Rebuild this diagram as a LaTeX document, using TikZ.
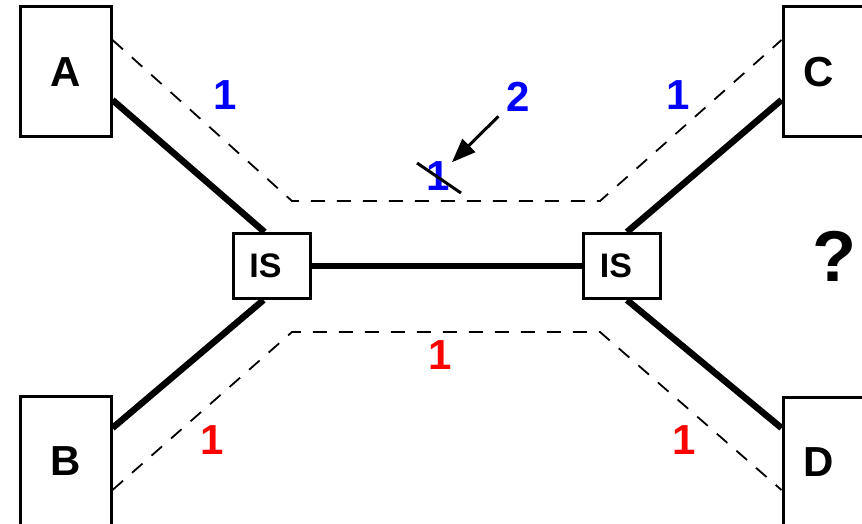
\documentclass[tikz,border=0pt]{standalone}
\usepackage{fontspec}
\setmainfont{Liberation Sans}
\usetikzlibrary{positioning,arrows.meta,calc}
\definecolor{hopblue}{RGB}{0,0,255}
\definecolor{hopred}{RGB}{255,0,0}

\begin{document}
\begin{tikzpicture}[
  x=1pt, y=-1pt,
  font=\bfseries\fontsize{42}{42}\selectfont,
  host/.style={draw, line width=3pt, minimum width=91pt, minimum height=130pt,
               inner sep=0pt},
  router/.style={draw, line width=3pt, minimum width=77pt, minimum height=65pt,
                 inner sep=0pt},
  rlabel/.style={font=\bfseries\fontsize{34}{34}\selectfont, xshift=-6pt},
  link/.style={line width=6.5pt},
  route/.style={line width=1.8pt, dash pattern=on 14pt off 12pt},
  hopb/.style={text=hopblue, inner sep=2pt},
  hopr/.style={text=hopred, inner sep=2pt},
  arr/.style={-{Triangle[length=24pt,width=18pt]}, line width=3pt},
  strike/.style={line width=3pt}
]
\useasboundingbox (0,0) rectangle (862,524);
\clip (0,0) rectangle (862,524);
% --- end systems -------------------------------------------------------
\node[host] (A) at (65.5,72)  {A};
\node[host] (B) at (65.5,461) {B};
\node[host, label={[xshift=-10pt]center:C}] (C) at (828.5,72)  {};
\node[host, label={[xshift=-10pt]center:D}] (D) at (828.5,462) {};
% --- intermediate systems ----------------------------------------------
\node[router, label={[rlabel]center:IS}] (ISL) at (271.5,266) {};
\node[router, label={[rlabel]center:IS}] (ISR) at (622,266)   {};
% --- physical links ----------------------------------------------------
\draw[link] ([yshift=-28pt]A.east) -- ([xshift=-7pt]ISL.north);
\draw[link] ([yshift=33pt]B.east)  -- ([xshift=-8pt]ISL.south);
\draw[link] (ISL) -- (ISR);
\draw[link] ([xshift=5pt]ISR.north) -- ([yshift=-28pt]C.west);
\draw[link] ([xshift=5pt]ISR.south) -- ([yshift=34pt]D.west);
% --- routes ------------------------------------------------------------
\coordinate (tl) at (292,201);
\coordinate (tr) at (600,201);
\coordinate (bl) at (292,332);
\coordinate (br) at (600,332);
\draw[route] ([yshift=32pt]A.east) -- (tl) -- (tr) -- ([yshift=32pt]C.west);
\draw[route] ([yshift=-29pt]B.east) -- (bl) -- (br) -- ([yshift=-28pt]D.west);
% --- hop counts --------------------------------------------------------
\node[hopb] (ac)  at (225,95)  {1};
\node[hopb] (cc)  at (678,95)  {1};
\node[hopb] (old) at (438,176) {1};
\node[hopb] (new) at (518,97)  {2};
\node[hopr] (bd)  at (440,355) {1};
\node[hopr] (bb)  at (212,440) {1};
\node[hopr] (dd)  at (684,440) {1};
\draw[strike] ([shift={(-21pt,13pt)}]old.center) -- ([shift={(23pt,-17pt)}]old.center);
\draw[arr, shorten <=8pt, shorten >=0pt] (new) -- (old);
\node[font=\bfseries\fontsize{72}{72}\selectfont] (q) at (834,256) {?};
\end{tikzpicture}
\end{document}
